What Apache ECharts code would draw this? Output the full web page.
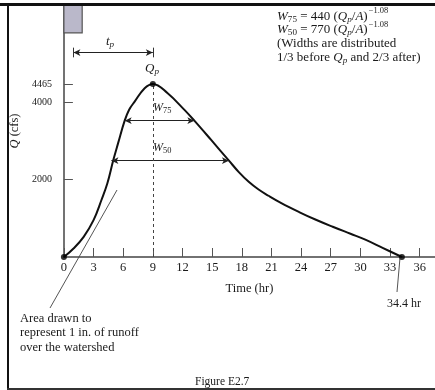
<!DOCTYPE html>
<html><head><meta charset="utf-8">
<script src="https://cdn.jsdelivr.net/npm/echarts@6/dist/echarts.min.js"></script>
<style>html,body{margin:0;padding:0;background:#fff}#c{width:435px;height:390px}</style>
</head><body><div id="c"></div>
<script>
// ---- data ----
const hydroTime = [0, 1, 2, 3, 3.8, 4.4, 5.0, 5.5, 6.15, 6.6, 7.16, 8.17, 9, 10.5, 12.2, 13.2, 14.9, 16.7, 17.7, 18.7, 19.7, 20.7, 22, 23.8, 25.5, 27.2, 29, 30.5, 32.3, 34.2];
const hydroQ    = [0, 225, 520, 950, 1470, 1900, 2500, 2950, 3517, 3800, 4008, 4354, 4465, 4224, 3794, 3517, 3019, 2485, 2190, 1940, 1740, 1580, 1390, 1160, 960, 780, 600, 450, 230, 0];
const dotTime = [0, 9, 34.2];
const dotQ    = [0, 4465, 0];
const peakT = 9, peakQ = 4465;
const rainT = [0, 1.85];
const rainQ = [5780, 6500];
const tpT = [0.96, 9];
const tpQ = 5272;
const tpBarQ = [5150, 5400];
const w75T = [6.15, 13.2], w75Q = 3517;
const w50T = [4.81, 16.7], w50Q = 2485;
const xTicks = [0, 3, 6, 9, 12, 15, 18, 21, 24, 27, 30, 33, 36];
const yTicks = [2000, 4000, 4465];

const F = '"Liberation Serif","Times New Roman",serif';
const INK = '#1a1a1a';

// rich styles: normal text padded down so that sub/superscripts can sit lower/higher
function richSet(s) {
  const pN = Math.round(s * 0.42);
  const subS = s * 0.7, supS = s * 0.65;
  const pSub = Math.round(pN + s / 2 + s * 0.23 - subS / 2);
  const base = {fontFamily: F, color: INK, verticalAlign: 'top'};
  return {
    off: pN + s / 2,
    rich: {
      n: Object.assign({}, base, {fontSize: s, padding: [pN, 0, 0, 0]}),
      i: Object.assign({}, base, {fontSize: s, padding: [pN, 0, 0, 0], fontStyle: 'italic'}),
      sub: Object.assign({}, base, {fontSize: subS, padding: [pSub, 0, 0, 0]}),
      subi: Object.assign({}, base, {fontSize: subS, padding: [pSub, 0, 0, 0], fontStyle: 'italic'}),
      sup: Object.assign({}, base, {fontSize: supS, padding: [2, 0, 0, 1]})
    }
  };
}
const R13 = richSet(13), R12 = richSet(12);

// place a rich line so that its normal text is centred on y
function txt(x, y, text, R, align) {
  return {type: 'text', x: x, y: y - R.off, silent: true, z: 50,
    style: {text: text, rich: R.rich, align: align || 'left', verticalAlign: 'top',
            textAlign: align || 'left', textVerticalAlign: 'top',
            fontFamily: F, fontSize: 13, fill: INK}};
}
function plain(x, y, text, size, lh) {
  return {type: 'text', x: x, y: y, silent: true, z: 50,
    style: {text: text, align: 'left', verticalAlign: 'top', textAlign: 'left', textVerticalAlign: 'top',
            fontFamily: F, fontSize: size, lineHeight: lh || size * 1.2, fill: INK}};
}

const chart = echarts.init(document.getElementById('c'), null, {renderer: 'canvas'});

const option = {
  animation: false,
  backgroundColor: '#fff',
  grid: {left: 62, right: 0, top: 5, bottom: 133},
  xAxis: {
    type: 'value', min: 0, max: 37.55, interval: 3,
    name: 'Time (hr)', nameLocation: 'middle', nameGap: 25,
    nameTextStyle: {fontFamily: F, fontSize: 12.5, color: INK},
    axisLine: {show: true, lineStyle: {color: '#444', width: 1.5}},
    axisTick: {show: true, inside: true, length: 9, customValues: xTicks, lineStyle: {color: '#555', width: 1}},
    axisLabel: {customValues: xTicks, fontFamily: F, fontSize: 12.5, color: INK, margin: 4,
      formatter: v => String(v)},
    splitLine: {show: false}
  },
  yAxis: {
    type: 'value', min: 0, max: 6500,
    name: '{i|Q} (cfs)', nameLocation: 'middle', nameGap: 39,
    nameTextStyle: {fontFamily: F, fontSize: 12.5, color: INK,
      rich: {i: {fontFamily: F, fontSize: 12.5, color: INK, fontStyle: 'italic'}}},
    axisLine: {show: true, lineStyle: {color: '#444', width: 1.5}},
    axisTick: {show: true, inside: true, length: 9, customValues: yTicks, lineStyle: {color: '#555', width: 1}},
    axisLabel: {customValues: yTicks, fontFamily: F, fontSize: 10, color: INK, margin: 12,
      formatter: v => String(v)},
    splitLine: {show: false}
  },
  series: [
    {
      type: 'line', data: hydroTime.map((t, k) => [t, hydroQ[k]]),
      smooth: 0.4, symbol: 'none', z: 3,
      lineStyle: {color: '#111', width: 2},
      markArea: {
        silent: true,
        itemStyle: {color: '#bab8ca', borderColor: '#555', borderWidth: 1.2},
        data: [[{coord: [rainT[0], rainQ[0]]}, {coord: [rainT[1], rainQ[1]]}]]
      }
    },
    {
      type: 'scatter', data: dotTime.map((t, k) => [t, dotQ[k]]),
      symbolSize: 6, itemStyle: {color: '#000'}, z: 6, clip: false, silent: true
    },
    {
      type: 'line', data: [], silent: true,
      markLine: {
        silent: true, symbol: ['arrow', 'arrow'], symbolSize: [5, 7],
        label: {show: false},
        lineStyle: {color: '#222', width: 1, type: 'solid'},
        data: [
          [{coord: [w75T[0], w75Q]}, {coord: [w75T[1], w75Q]}],
          [{coord: [w50T[0], w50Q]}, {coord: [w50T[1], w50Q]}],
          [{coord: [tpT[0], tpQ]}, {coord: [tpT[1], tpQ]}]
        ]
      }
    },
    {
      type: 'line', data: [], silent: true,
      markLine: {
        silent: true, symbol: ['none', 'none'],
        label: {show: false},
        lineStyle: {color: '#333', width: 1, type: 'solid'},
        data: [
          [{coord: [tpT[0], tpBarQ[0]]}, {coord: [tpT[0], tpBarQ[1]]}],
          [{coord: [tpT[1], tpBarQ[0]]}, {coord: [tpT[1], tpBarQ[1]]}]
        ]
      }
    },
    {
      type: 'line', data: [], silent: true,
      markLine: {
        silent: true, symbol: ['none', 'none'],
        label: {show: false},
        lineStyle: {color: '#444', width: 1, type: [3, 3]},
        data: [[{coord: [peakT, 0]}, {coord: [peakT, peakQ]}]]
      }
    }
  ]
};
chart.setOption(option);

const endPx = chart.convertToPixel({gridIndex: 0}, [dotTime[2], dotQ[2]]);

chart.setOption({
  graphic: [
    // frame
    {type: 'rect', shape: {x: 0, y: 3, width: 435, height: 3}, style: {fill: '#111'}, z: 60, silent: true},
    {type: 'rect', shape: {x: 7, y: 3, width: 2, height: 387}, style: {fill: '#111'}, z: 60, silent: true},
    {type: 'rect', shape: {x: 7, y: 388, width: 428, height: 2}, style: {fill: '#333'}, z: 60, silent: true},
    // formulas
    txt(277, 16.5, '{i|W}{sub|75}{n| = 440 (}{i|Q}{subi|p}{n|/}{i|A}{n|)}{sup|−1.08}', R13),
    txt(277, 30, '{i|W}{sub|50}{n| = 770 (}{i|Q}{subi|p}{n|/}{i|A}{n|)}{sup|−1.08}', R13),
    txt(277, 44, '{n|(Widths are distributed}', R13),
    txt(277, 57.5, '{n|1/3 before }{i|Q}{subi|p}{n| and 2/3 after)}', R13),
    // annotations
    txt(152, 69, '{i|Q}{subi|p}', R13, 'center'),
    txt(110, 42, '{i|t}{subi|p}', R13, 'center'),
    txt(153, 108, '{i|W}{sub|75}', R12),
    txt(153, 148, '{i|W}{sub|50}', R12),
    plain(387, 297, '34.4 hr', 12),
    plain(20, 311, 'Area drawn to\nrepresent 1 in. of runoff\nover the watershed', 12.5, 14.5),
    plain(195, 375, 'Figure E2.7', 11.5),
    // leader lines
    {type: 'line', shape: {x1: endPx[0] - 2, y1: endPx[1] + 2, x2: 397, y2: 292}, style: {stroke: '#555', lineWidth: 1}, silent: true},
    {type: 'line', shape: {x1: 117, y1: 190, x2: 50, y2: 308}, style: {stroke: '#555', lineWidth: 1}, silent: true}
  ]
});
</script>
</body></html>
